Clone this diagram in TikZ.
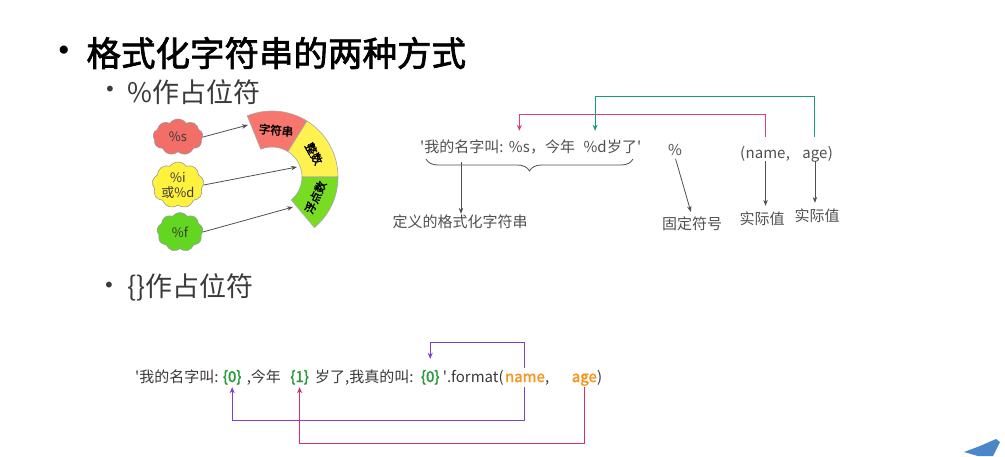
\documentclass[tikz,border=0pt]{standalone}
\usepackage{fontspec}
\setmainfont{Noto Sans CJK SC}
\newfontfamily\cjkb[FakeBold=2]{Noto Sans CJK SC}
\newfontfamily\bul{DejaVu Sans}
\usetikzlibrary{arrows.meta,calc,shapes.symbols,decorations.pathreplacing}
\newcommand\sq{\textquotesingle}
\definecolor{txtg}{HTML}{505050}
\definecolor{txtd}{HTML}{3A3A3A}
\definecolor{zg}{HTML}{2A9A3A}
\definecolor{orng}{HTML}{F5961E}
\definecolor{cred}{HTML}{F36E66}
\definecolor{cyel}{HTML}{FFF23C}
\definecolor{cgrn}{HTML}{62D620}
\definecolor{ared}{HTML}{F7766E}
\definecolor{ayel}{HTML}{FFF250}
\definecolor{agrn}{HTML}{78DC22}
\definecolor{arrowg}{HTML}{505050}
\definecolor{pk}{HTML}{E0407A}
\definecolor{gn}{HTML}{1A9E6A}
\definecolor{pu}{HTML}{7B3FD6}
\definecolor{pk2}{HTML}{D0306A}
\definecolor{logo}{HTML}{4A86C8}
\begin{document}
\begin{tikzpicture}[x=1pt,y=-1pt,
  tx/.style={font=\fontsize{15}{18}\selectfont, text=txtg, inner sep=0pt, text height=11pt, text depth=3pt, anchor=base west},
  bx/.style={font=\fontsize{15}{18}\selectfont, text=txtd, inner sep=0pt, text height=11pt, text depth=3pt, anchor=base west},
  bz/.style={bx, font=\cjkb\fontsize{15}{18}\selectfont, text=zg},
  bo/.style={bx, font=\cjkb\fontsize{15}{18}\selectfont, text=orng},
  lbl/.style={font=\fontsize{15}{18}\selectfont, text=txtg, inner sep=1pt},
  cl/.style={cloud, cloud puffs=9, cloud puff arc=110, aspect=1.3, draw=gray!80, line width=0.6pt, inner sep=0pt, font=\fontsize{13}{15}\selectfont, text=txtd, align=center},
  ar/.style={draw=arrowg, line width=0.8pt, -{Stealth[length=6pt,width=4.5pt]}},
  seg/.style={draw=gray!70, line width=0.6pt},
  segt/.style={font=\cjkb\fontsize{11.5}{13}\selectfont, text=black, inner sep=0pt},
  con/.style={line width=1pt, -{Stealth[length=6pt,width=5pt]}},
]
\useasboundingbox[fill=white] (0,0) rectangle (1005,456);

% headings
\node[font=\bul\fontsize{28}{30}\selectfont] (tb) at (64,53) {•};
\node[anchor=west, font=\cjkb\fontsize{34.5}{40}\selectfont, text=black] (title) at (83,53) {格式化字符串的两种方式};
\node[font=\bul\fontsize{20}{22}\selectfont, text=txtd] (sb1) at (110,91) {•};
\node[anchor=west, font=\fontsize{27}{32}\selectfont, text=txtd] (sub1) at (124,92) {\%作占位符};
\node[font=\bul\fontsize{20}{22}\selectfont, text=txtd] (sb2) at (109,287) {•};
\node[anchor=west, font=\fontsize{27}{32}\selectfont, text=txtd] (sub2) at (124,287) {\{\}作占位符};

% clouds
\node[cl, fill=cred, minimum width=50pt, minimum height=36pt] (cs) at (178,137) {\%s};
\node[cl, fill=cyel, minimum width=48pt, minimum height=46pt] (ci) at (178,185) {\%i\\或\%d};
\node[cl, fill=cgrn, minimum width=46pt, minimum height=39pt] (cf) at (180,232) {\%f};

% block arc
\coordinate (C) at (272,177);
\filldraw[seg, fill=ared] ($(C)+(-112:66)$) arc[start angle=-112, end angle=-58, radius=66] -- ($(C)+(-58:30)$) arc[start angle=-58, end angle=-112, radius=30] -- cycle;
\filldraw[seg, fill=ayel] ($(C)+(-58:66)$) arc[start angle=-58, end angle=0, radius=66] -- ($(C)+(0:30)$) arc[start angle=0, end angle=-58, radius=30] -- cycle;
\filldraw[seg, fill=agrn] ($(C)+(0:66)$) arc[start angle=0, end angle=50, radius=66] -- ($(C)+(50:30)$) arc[start angle=50, end angle=0, radius=30] -- cycle;
\node[segt, rotate=-5] (t1) at ($(C)+(-85:47)$) {字符串};
\node[segt, rotate=-61] (t2) at ($(C)+(-29:48)$) {整数};
\node[segt, rotate=65] (t3) at ($(C)+(25:48)$) {浮点数};
\coordinate (a1) at (248,125);
\coordinate (a2) at (297,167);
\coordinate (a3) at (293,207);
\draw[ar] (cs.east) -- (a1);
\draw[ar] (ci.east) -- (a2);
\draw[ar] (cf.east) -- (a3);

% right diagram
\node[tx] (f1) at (420,152) {\sq 我的名字叫:\kern5pt};
\node[tx] (f2) at (f1.base east) {\%s};
\node[tx] (f3) at (f2.base east) {，今年\kern8pt};
\node[tx] (f4) at (f3.base east) {\%d};
\node[tx] (f5) at (f4.base east) {岁了\sq};
\draw[txtg, line width=0.8pt, decorate, decoration={brace, mirror, amplitude=12pt}] (426,159) -- (633,159);
\coordinate (bt) at (461,162);
\node[lbl] (def) at (460,222) {定义的格式化字符串};
\draw[ar] (bt) -- (bt |- def.north);

\node[lbl] (pct) at (675,150) {\%};
\node[lbl] (gd) at (692,224) {固定符号};
\draw[ar, shorten <=2pt, shorten >=4pt] (pct.south) -- (gd.north);

\node[tx] (n1) at (740,158) {(};
\node[tx] (nm) at (n1.base east) {name};
\node[tx] (n3) at (nm.base east) {,\kern12pt};
\node[tx] (ag) at (n3.base east) {age};
\node[tx] (n5) at (ag.base east) {)};
\node[lbl] (v1) at (762,219) {实际值};
\node[lbl] (v2) at (817,216) {实际值};
\draw[ar, shorten >=5pt] (nm.south) -- (nm.south |- v1.north);
\draw[ar, shorten >=5pt] (ag.south) -- (ag.south |- v2.north);

\draw[pk, con] ([yshift=10pt]nm.north) -- ++(0,-22) -| ([yshift=10pt]f2.north);
\draw[gn, con] ([yshift=10pt]ag.north) -- ++(0,-40) -| ([yshift=10pt]f4.north);

% bottom line
\node[bx] (g1) at (135,382) {\sq 我的名字叫:\kern4pt};
\node[bz] (z1) at (g1.base east) {\{0\}};
\node[bx] (g2) at (z1.base east) {\kern5pt,今年\kern9pt};
\node[bz] (z2) at (g2.base east) {\{1\}};
\node[bx] (g3) at (z2.base east) {\kern6pt岁了,我真的叫:\kern7pt};
\node[bz] (z3) at (g3.base east) {\{0\}};
\node[bx] (g4) at (z3.base east) {\kern3pt\sq.format(\kern1pt};
\node[bo] (nm2) at (g4.base east) {name};
\node[bx] (g5) at (nm2.base east) {,\kern22pt};
\node[bo] (ag2) at (g5.base east) {age};
\node[bx] (g6) at (ag2.base east) {)};

\draw[pu, con] ([yshift=-2pt]nm2.south) -- ++(0,33) -| ([yshift=-2pt]z1.south);
\draw[pu, con] ([yshift=3pt]nm2.north) -- ++(0,-25) -| ([yshift=12pt]z3.north);
\draw[pk2, con] ([yshift=-2pt]ag2.south) -- ++(0,56) -| ([yshift=-2pt]z2.south);

% logo fragment
\fill[logo] (964,452) -- (980,446) -- (996,439) -- (1000,442) -- (993,456) -- (978,456) -- cycle;
\end{tikzpicture}
\end{document}
